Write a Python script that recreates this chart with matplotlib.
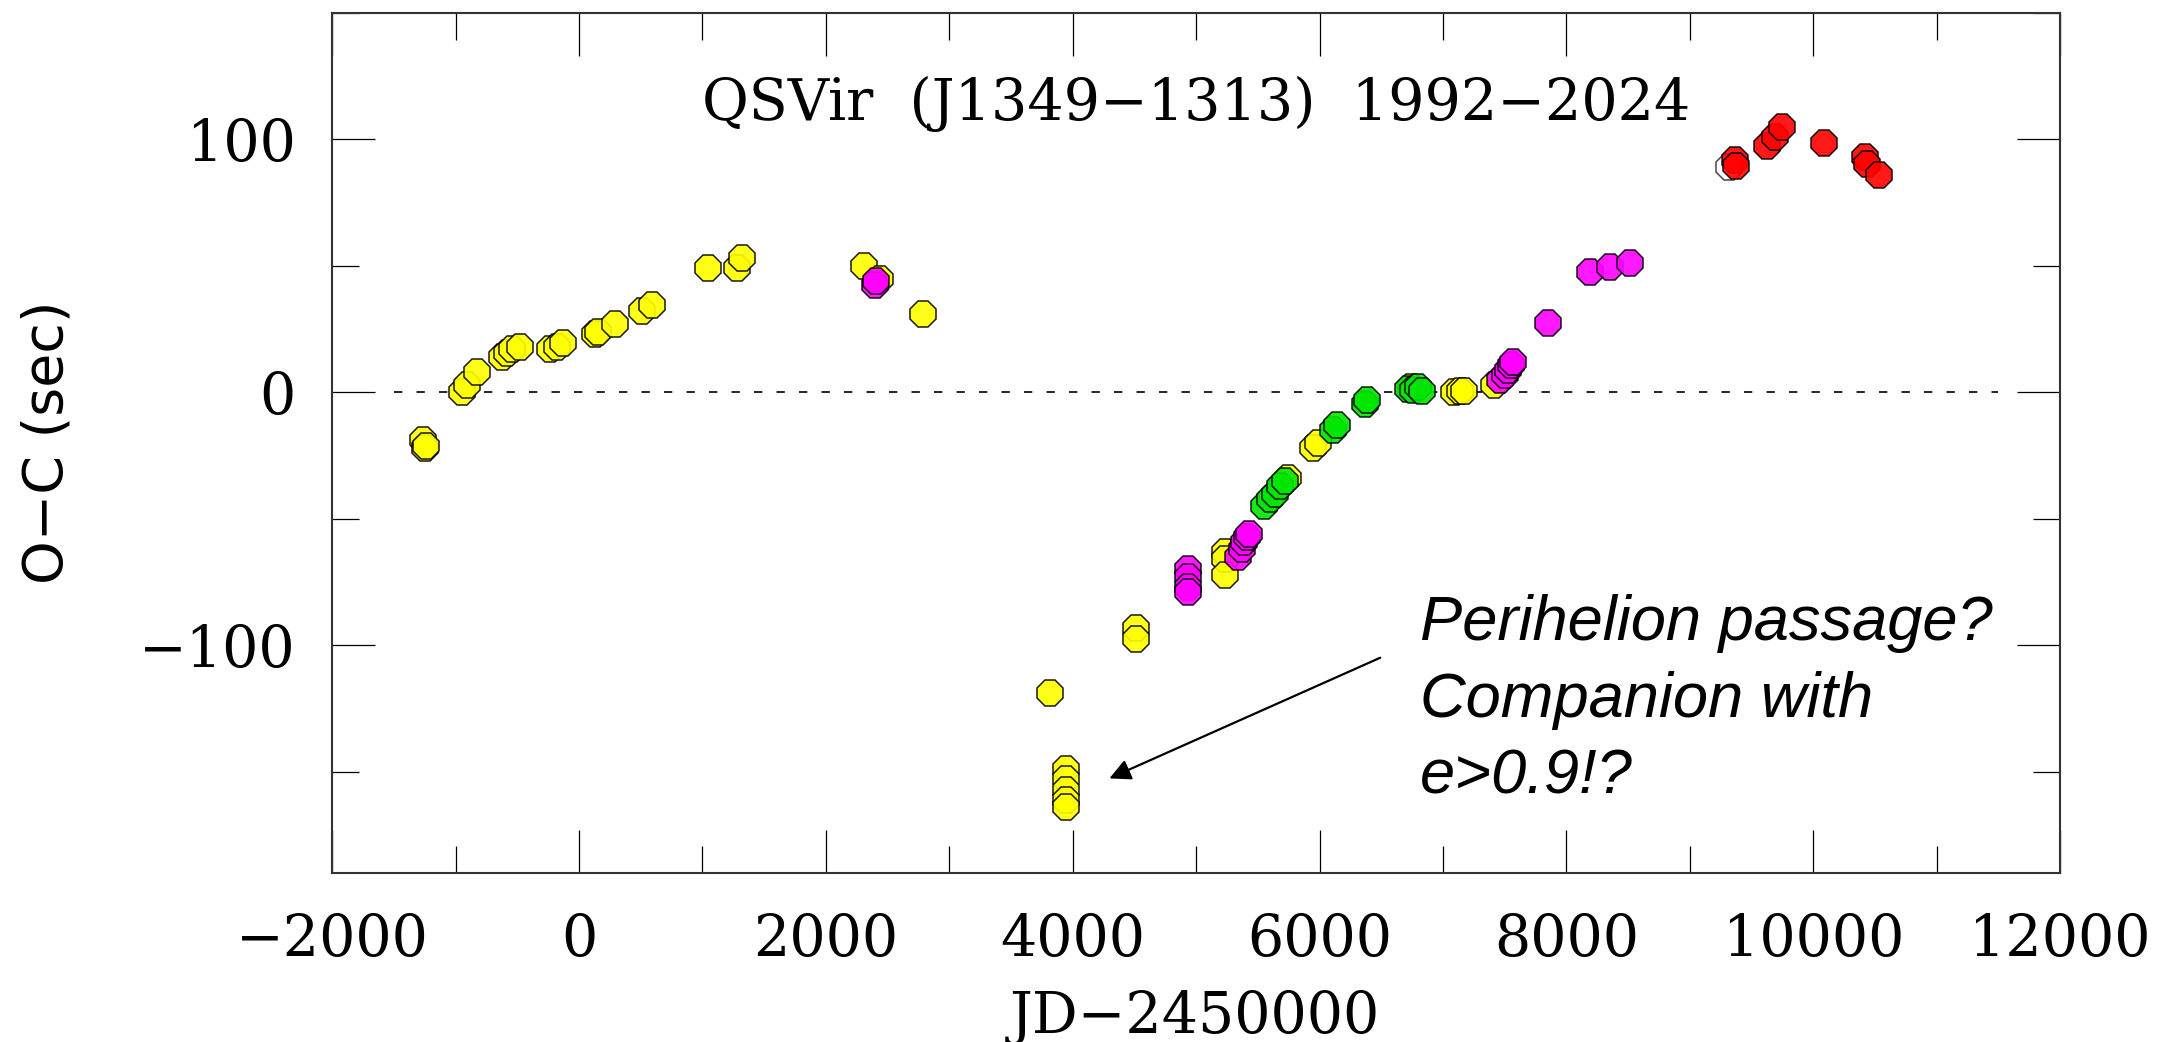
import matplotlib
matplotlib.use("Agg")
import matplotlib.pyplot as plt
from matplotlib.ticker import MultipleLocator

# O-C timing residuals of QS Vir, grouped by data source
yellow_jd = [-1260, -1250, -1240, -949, -909, -828, -620, -580, -544, -477,
             -234, -180, -126, 131, 158, 293, 509, 590, 1044, 1279, 1324,
             2305, 2440, 2791, 3817, 3944, 3944, 3944, 3944, 3944, 4511, 4511,
             5235, 5235, 5235, 5740, 5950, 5990, 6740, 7085, 7140, 7166, 7409]
yellow_oc = [-19, -22, -21, 0, 3, 8, 14, 15.5, 17, 18,
             17, 18, 19.5, 23, 24, 27, 32, 34.5, 49, 49, 53,
             50, 45, 31, -119, -149, -153, -157, -161, -164, -93, -97.5,
             -63, -66, -72, -34, -22, -20, 2, 0, 0.5, 0.5, 3]

magenta_jd = [2399, 2410, 4930, 4930, 4930, 4930, 5340, 5370, 5390, 5410,
              5430, 7463, 7500, 7530, 7550, 7570, 7854, 8192, 8354, 8516]
magenta_oc = [42.5, 44, -70, -73, -77, -79, -65, -62, -59, -57,
              -56, 5, 7, 9, 11, 12, 27.4, 47.8, 49.7, 51.3]

green_jd = [5550, 5600, 5640, 5680, 5720, 6112, 6140, 6369, 6380,
            6720, 6760, 6800, 6830]
green_oc = [-45, -42, -40, -37, -35, -15, -13, -4.6, -3,
            1.5, 1, 2, 0.5]

red_jd = [9367, 9370, 9624, 9691, 9745, 10083, 10420, 10434, 10529]
red_oc = [91.7, 89.6, 97.6, 100.8, 104.8, 98.5, 93, 90.3, 85.8]

open_jd = [9313]
open_oc = [89]

zero_jd = [-1500, 11500]
zero_oc = [0, 0]

title = "QSVir  (J1349\u22121313)  1992\u22122024"
note_lines = ["Perihelion passage?", "Companion with", "e>0.9!?"]

SERIF = ["DejaVu Serif"]
SANS_IT = ["Liberation Sans", "Arial", "DejaVu Sans"]

fig = plt.figure(figsize=(21.65, 10.42), dpi=100)
ax = fig.add_axes([0.1534, 0.1622, 0.7982, 0.8253])
ax.set_xlim(-2000, 12000)
ax.set_ylim(-190, 150)

ax.plot(zero_jd, zero_oc, color="black", lw=1.2, dashes=(5, 8.5), zorder=1)


def draw(x, y, face, edge="black", z=3):
    ax.plot(x, y, ls="none", marker="8", ms=20.5, mfc=face, mec=edge,
            mew=1.1, alpha=0.9, zorder=z)


draw(yellow_jd, yellow_oc, "#ffff00", z=3)
draw(magenta_jd, magenta_oc, "#ff00ff", z=4)
draw(green_jd, green_oc, "#00e600", z=5)
draw(open_jd, open_oc, "none", edge="#333333", z=5)
draw(red_jd, red_oc, "#ff0000", z=6)

# axis frame and ticks
for s in ax.spines.values():
    s.set_linewidth(1.5)
    s.set_color("#333333")
ax.xaxis.set_major_locator(MultipleLocator(2000))
ax.xaxis.set_minor_locator(MultipleLocator(1000))
ax.yaxis.set_major_locator(MultipleLocator(100))
ax.yaxis.set_minor_locator(MultipleLocator(50))
ax.tick_params(which="both", direction="in", top=True, right=True,
               width=0.9, color="black")
ax.tick_params(which="major", length=31)
ax.tick_params(which="minor", length=19.5)
ax.tick_params(axis="x", which="major", pad=28)
ax.tick_params(axis="y", which="major", pad=26)
for lab in ax.get_xticklabels() + ax.get_yticklabels():
    lab.set_fontfamily(SERIF)
    lab.set_fontsize(41)

ax.text(5000, 107.7, title, ha="center", va="baseline",
        fontsize=41, family=SERIF)

fig.text(48 / 2165, 1 - 442 / 1042, "O\u2212C (sec)", rotation=90,
         ha="center", va="center", fontsize=40, family=["DejaVu Sans"])
fig.text(1195 / 2165, 1 - 1033 / 1042, "JD\u22122450000", ha="center",
         va="baseline", fontsize=41, family=SERIF)

for line, yb in zip(note_lines, [-97.9, -128.4, -158.4]):
    ax.text(6815, yb, line, ha="left", va="baseline", fontsize=45.5,
            style="italic", family=SANS_IT)

ax.annotate("", xy=(4297, -152.6), xytext=(6491, -104.9),
            arrowprops=dict(arrowstyle="-|>", color="black", lw=1.6,
                            mutation_scale=32, shrinkA=0, shrinkB=0))

fig.savefig("out.png", dpi=100)
